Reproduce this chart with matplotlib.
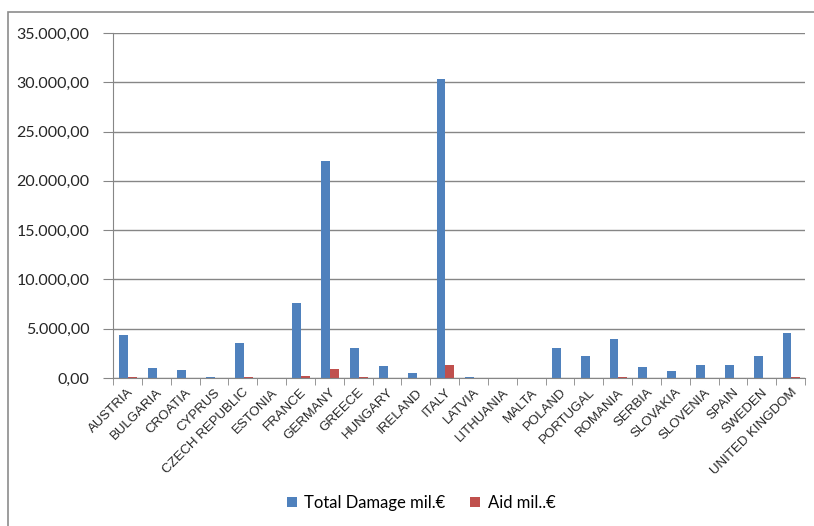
"""
Flood damage vs. EU aid per country (mil. EUR)
"""

import matplotlib.pyplot as plt
from matplotlib.patches import Rectangle
from matplotlib.ticker import FuncFormatter
import numpy as np

countries = ["AUSTRIA", "BULGARIA", "CROATIA", "CYPRUS", "CZECH REPUBLIC", "ESTONIA",
             "FRANCE", "GERMANY", "GREECE", "HUNGARY", "IRELAND", "ITALY", "LATVIA",
             "LITHUANIA", "MALTA", "POLAND", "PORTUGAL", "ROMANIA", "SERBIA",
             "SLOVAKIA", "SLOVENIA", "SPAIN", "SWEDEN", "UNITED KINGDOM"]

total_damage = [4350, 1000, 780, 150, 3550, 0, 7570, 22000, 3000, 1190, 480, 30300,
                130, 0, 0, 3000, 2270, 4000, 1080, 750, 1290, 1290, 2270, 4600]

aid = [130, 0, 0, 0, 130, 0, 240, 950, 100, 0, 0, 1290,
       0, 0, 0, 0, 0, 100, 0, 0, 0, 0, 0, 100]

series_labels = ["Total Damage mil.€", "Aid mil..€"]
blue = "#4f81bd"
red = "#c0504d"
grid_col = "#868686"


def euro_fmt(v, pos):
    s = f"{v:,.2f}"
    return s.replace(",", "X").replace(".", ",").replace("X", ".")


fig = plt.figure(figsize=(8.14, 5.26), dpi=100)
ax = fig.add_axes([113 / 814, 1 - 378 / 526, 692 / 814, 345 / 526])

# outer frame of the chart area
fig.patches.append(Rectangle((8 / 814, -0.01), 1.0, 1 - 12 / 526 + 0.01,
                             transform=fig.transFigure, fill=False,
                             edgecolor="#8c8c8c", linewidth=1.2))

x = np.arange(len(countries))
w = 0.31
ax.bar(x - w / 2 + 0.03, total_damage, w, color=blue, label=series_labels[0])
ax.bar(x + w / 2 + 0.03, aid, w, color=red, label=series_labels[1])

ax.set_xlim(-0.5, len(countries) - 0.5)
ax.set_ylim(0, 35000)
ax.set_yticks(np.arange(0, 35001, 5000))
ax.yaxis.set_major_formatter(FuncFormatter(euro_fmt))
ax.grid(axis="y", color=grid_col, linewidth=1)
ax.set_axisbelow(True)

for side in ["top", "right"]:
    ax.spines[side].set_visible(False)
ax.spines["left"].set_color(grid_col)
ax.spines["bottom"].set_color(grid_col)

ax.set_xticks(x)
ax.set_xticklabels(countries, rotation=45, ha="right", rotation_mode="anchor",
                   fontsize=9.5, family="Liberation Sans", color="#262626")
ax.set_xticks(np.arange(-0.5, len(countries)), minor=True)
ax.tick_params(axis="x", which="major", length=0, pad=6)
ax.tick_params(axis="x", which="minor", length=5, color=grid_col)
ax.tick_params(axis="y", length=7, pad=10, color=grid_col, labelsize=11.5,
               labelcolor="#262626")
for lab in ax.get_yticklabels():
    lab.set_family("Lato")

fig.legend(loc="center", bbox_to_anchor=(421 / 814, 1 - 503 / 526), ncol=2,
           frameon=False, prop={"family": "Lato", "size": 12},
           handlelength=0.6, handleheight=0.6, columnspacing=1.5, handletextpad=0.45)

plt.savefig("out.png", dpi=100)
